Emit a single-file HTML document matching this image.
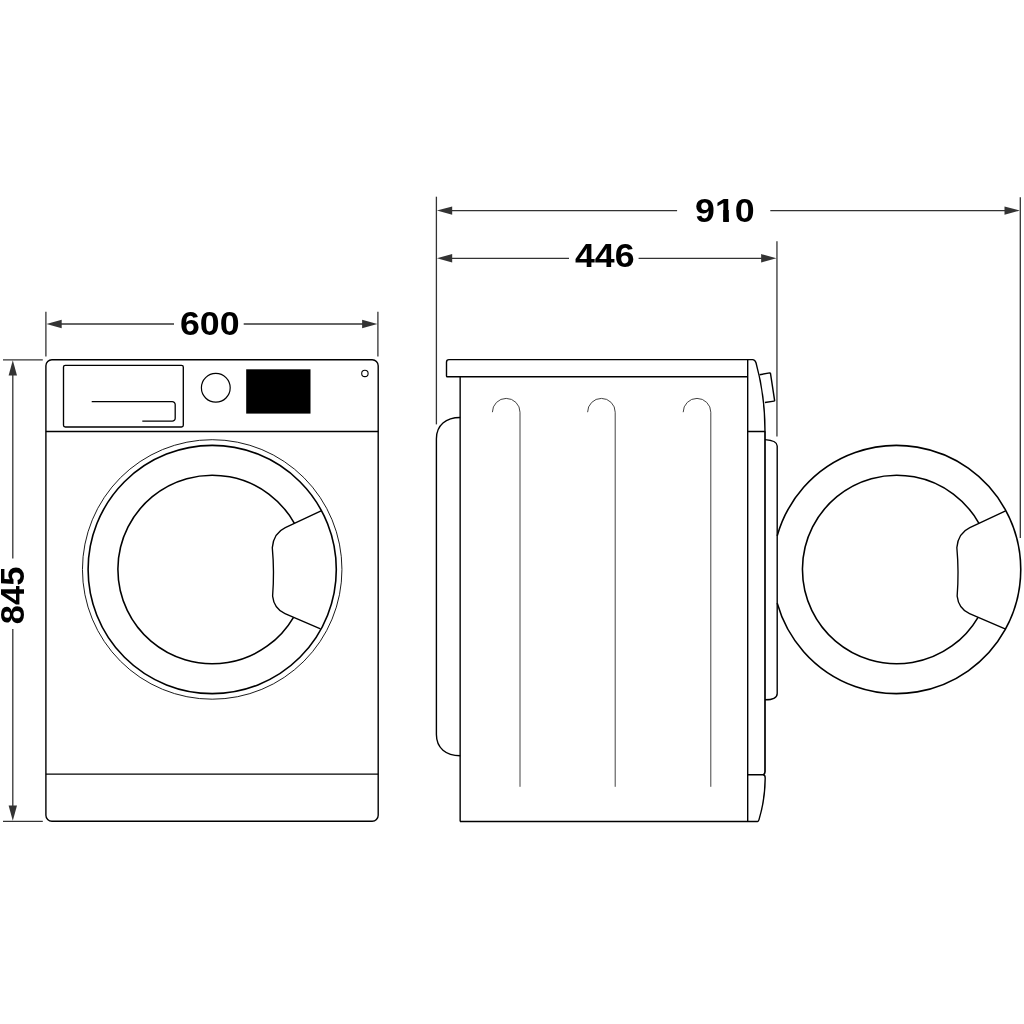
<!DOCTYPE html>
<html><head><meta charset="utf-8">
<style>
html,body{margin:0;padding:0;background:#fff;width:1024px;height:1024px;overflow:hidden}
svg{display:block;filter:grayscale(1)}
text{font-family:"Liberation Sans",sans-serif;font-weight:bold;fill:#000}
</style></head>
<body>
<svg width="1024" height="1024" viewBox="0 0 1024 1024">
<rect width="1024" height="1024" fill="#fff"/>
<!-- DIMENSIONS -->
<g stroke="#333" stroke-width="1.3" fill="none">
  <!-- 600 -->
  <line x1="45.9" y1="311.7" x2="45.9" y2="356.6"/>
  <line x1="377.9" y1="311.7" x2="377.9" y2="356.6"/>
  <line x1="60" y1="324" x2="174" y2="324"/>
  <line x1="243.7" y1="324" x2="364" y2="324"/>
  <!-- 845 -->
  <line x1="3" y1="359.8" x2="42.8" y2="359.8"/>
  <line x1="3" y1="821.3" x2="42.8" y2="821.3"/>
  <line x1="12.8" y1="374" x2="12.8" y2="558.6"/>
  <line x1="12.8" y1="628.9" x2="12.8" y2="807"/>
  <!-- 910 -->
  <line x1="436.4" y1="196.7" x2="436.4" y2="424.4"/>
  <line x1="1020.3" y1="197.2" x2="1020.3" y2="538"/>
  <line x1="450" y1="210.6" x2="677.1" y2="210.6"/>
  <line x1="770.3" y1="210.6" x2="1006" y2="210.6"/>
  <!-- 446 -->
  <line x1="776.95" y1="241.2" x2="776.95" y2="436.5"/>
  <line x1="450" y1="258.3" x2="569" y2="258.3"/>
  <line x1="638.6" y1="258.3" x2="763" y2="258.3"/>
</g>
<g fill="#333" stroke="none">
  <polygon points="46.40,324 61.70,319.80 61.70,328.20"/>
  <polygon points="377.40,324 362.10,319.80 362.10,328.20"/>
  <polygon points="12.8,360.30 8.60,375.60 17.00,375.60"/>
  <polygon points="12.8,820.80 8.60,805.50 17.00,805.50"/>
  <polygon points="436.90,210.6 452.20,206.40 452.20,214.80"/>
  <polygon points="1019.80,210.6 1004.50,206.40 1004.50,214.80"/>
  <polygon points="436.90,258.3 452.20,254.10 452.20,262.50"/>
  <polygon points="776.45,258.3 761.15,254.10 761.15,262.50"/>
</g>
<g transform="translate(209.75,334.6) scale(1.05,1)"><text x="0" y="0" font-size="34" text-anchor="middle">600</text></g>
<g transform="translate(724.8,222.0) scale(1.05,1)"><text x="0" y="0" font-size="34" text-anchor="middle">910</text></g>
<rect x="715.5" y="217.4" width="7.8" height="5.5" fill="#fff"/>
<rect x="728.75" y="217.4" width="7" height="5.5" fill="#fff"/>
<rect x="723.3" y="210" width="5.45" height="11.65" fill="#000"/>
<g transform="translate(604.7,267.4) scale(1.05,1)"><text x="0" y="0" font-size="34" text-anchor="middle">446</text></g>
<g transform="translate(23.7,595.4) rotate(-90) scale(1.015,1)"><text x="0" y="0" font-size="34" text-anchor="middle">845</text></g>

<!-- FRONT VIEW -->
<g stroke="#000" fill="none" stroke-width="1.4">
  <rect x="45.9" y="359.8" width="332.3" height="461.5" rx="6"/>
  <rect x="63.5" y="365.3" width="119.8" height="61.7" rx="1.8" stroke-width="1.35"/>
  <path d="M91.7,401.6 H172.2 a3,3 0 0 1 3,3 V418.2 a3,3 0 0 1 -3,3 H142.3" stroke-width="1.3"/>
  <line x1="45.9" y1="431.5" x2="378.2" y2="431.5" stroke-width="1.35"/>
  <circle cx="215.8" cy="387.8" r="14.4" stroke-width="1.2"/>
  <circle cx="364.9" cy="373.4" r="3.2" stroke-width="1.1"/>
  <line x1="45.9" y1="774.15" x2="378.2" y2="774.15" stroke-width="1.3"/>
  <circle cx="212.2" cy="569.45" r="129.75" stroke-width="0.9"/>
  <circle cx="212.2" cy="569.5" r="124.1" stroke-width="1.6"/>
  <path d="M294.41,523.30 A94.3,94.3 0 1 0 293.51,617.27" stroke-width="1.55"/>
  <path d="M321.07,510.86 L285.3,527.55 Q273.5,533.05 272.3,547.6 Q274.5,571.8 272.6,596.1 Q274,608.8 285,613.6 L320.5,628.9" stroke-width="1.35"/>
</g>
<rect x="246.2" y="369.3" width="64.3" height="44.3" fill="#000"/>

<!-- SIDE VIEW -->
<g stroke="#000" fill="none" stroke-width="1.4">
  <path d="M747.7,376.8 H447.3 Q446.5,376.8 446.5,376 V362.2 Q446.5,359.65 449,359.65 H752.6 Q755,359.7 756,362.8 Q765,395 765,431.45 H747.7"/>
  <line x1="460.15" y1="376.8" x2="460.15" y2="821.45"/>
  <line x1="747.7" y1="359.65" x2="747.7" y2="821.45"/>
  <path d="M460,821.45 H757.6 Q758.5,821.45 759,819.6 Q765,800 765.2,778 Q765.2,775 763.2,774.8 H747.7"/>
  <path d="M765,431.45 V771.8 Q765,774 763.2,774.8" stroke-width="1.7"/>
  <path d="M460.2,417.5 C446,417.5 436.4,425.2 436.4,438.7 V734.5 C436.4,748 446,755.7 460.2,755.7"/>
  <path d="M759.6,374.8 L769.6,372.9 Q770.3,372.8 770.5,373.5 L774.6,400.3 Q774.7,401 774,401.1 L764.9,402.5" stroke-width="1.45" stroke-linejoin="round"/>
  <path d="M765,439.65 Q777.2,440.5 777.2,446 V693.4 Q777.2,699.8 765,699.8"/>
</g>
<g stroke="#444" fill="none" stroke-width="1">
  <path d="M492.4,412.2 A13.8,13.8 0 0 1 520.0,412.2 V786.8"/>
  <path d="M587.6,412.2 A13.8,13.8 0 0 1 615.2,412.2 V786.8"/>
  <path d="M683.2,412.2 A13.8,13.8 0 0 1 710.8,412.2 V786.8"/>
</g>
<!-- OPEN DOOR -->
<g stroke="#000" fill="none" stroke-width="1.6">
  <path d="M777.2,535.85 A124.1,124.1 0 1 1 777.2,603.15"/>
  <path d="M978.96,523.30 A94.3,94.3 0 1 0 978.06,617.27" stroke-width="1.55"/>
  <path d="M1005.62,510.86 L969.85,527.55 Q958.05,533.05 956.85,547.6 Q959.05,571.8 957.15,596.1 Q958.55,608.8 969.55,613.6 L1005.05,628.9" stroke-width="1.35"/>
</g>
</svg>
</body></html>
